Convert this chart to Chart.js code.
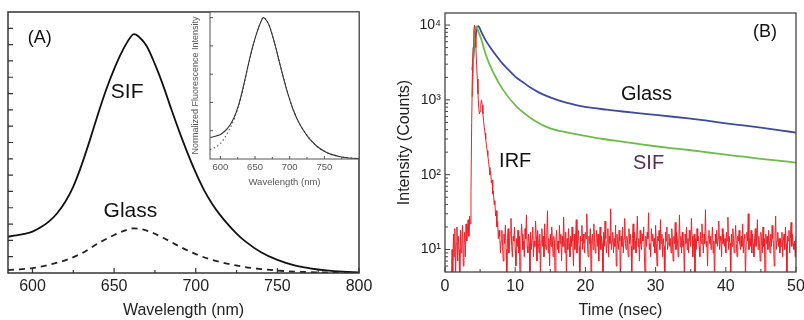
<!DOCTYPE html>
<html>
<head>
<meta charset="utf-8">
<script src="https://cdn.jsdelivr.net/npm/chart.js@4"></script>
<style>
  body { margin: 0; background: #fff; }
  #wrap { position: relative; width: 804px; height: 320px; background: #fff; }
  canvas { position: absolute; top: 0; }
</style>
</head>
<body>
<div id="wrap">
  <canvas id="chartA" width="400" height="320" style="left:0"></canvas>
  <canvas id="chartInset" width="186" height="200" style="left:180px"></canvas>
  <canvas id="chartB" width="416" height="320" style="left:388px"></canvas>
</div>
<script>
// (A) emission spectra, arbitrary units
const wavelength = [585, 590, 595, 600, 605, 610, 615, 620, 625, 630, 635, 640, 645, 650, 655, 660, 662, 665, 670, 675,
                    680, 685, 690, 695, 700, 705, 710, 715, 720, 725, 730, 740, 750, 760, 770, 780, 790, 800];
const sifSpectrum = [2.23, 2.3, 2.4, 2.54, 2.8, 3.15, 3.65, 4.35, 5.3, 6.6, 8.1, 9.7, 11.2, 12.5, 13.6, 14.45, 14.64, 14.5, 13.9, 12.8,
                     11.5, 10.05, 8.65, 7.35, 6.15, 5.1, 4.25, 3.55, 2.95, 2.42, 1.97, 1.27, 0.8, 0.48, 0.29, 0.16, 0.08, 0.04];
const glassWavelength = [585, 590, 600, 610, 620, 630, 640, 650, 656, 662, 670, 680, 690, 700, 710, 720, 730, 740, 750, 760, 780, 800];
const glassSpectrum = [0.18, 0.21, 0.3, 0.5, 0.78, 1.2, 1.8, 2.33, 2.58, 2.74, 2.6, 2.16, 1.63, 1.16, 0.8, 0.56, 0.37, 0.24, 0.15, 0.09, 0.03, 0.01];
const wlTicks = [600, 650, 700, 750, 800];
const wlMinorTicks = [625, 675, 725, 775];
const insetTicks = [600, 650, 700, 750];

// (B) decay curves, counts
const glassTime = [3.9, 4.2, 4.5, 4.75, 5.2, 5.9, 6.6, 7.4, 8.2, 9.0, 10, 11, 12, 13.5, 15, 17, 19, 21, 23, 25,
                   27.5, 30, 32.5, 35, 37.5, 40, 42.5, 45, 47.5, 50];
const glassDecay = [2500, 5500, 8500, 9700, 8000, 6000, 4800, 3800, 3050, 2550, 2050, 1750, 1500, 1240, 1080, 930, 840, 780, 740, 705,
                    665, 630, 595, 560, 525, 485, 455, 425, 395, 365];
const sifTime = [3.9, 4.0, 4.2, 4.45, 4.8, 5.2, 5.9, 6.9, 8.3, 10.2, 12.6, 15, 17.5, 20, 22.5, 25, 27.5, 30, 32.5, 35,
                 37.5, 40, 42.5, 45, 47.5, 50];
const sifDecay = [1100, 3000, 7000, 9600, 8000, 6300, 3800, 2300, 1350, 810, 540, 415, 365, 330, 300, 278, 258, 240, 225, 212,
                  198, 185, 174, 163, 154, 145];
// IRF: one value per 0.1 ns channel, from 0.9 ns
const irfStart = 0.9;
const irfChannel = 0.1;
const irfCounts = [
  3, 10, 5, 16, 8, 19, 4, 12, 20, 7, 15, 10, 3, 18, 9, 14, 21, 6, 12, 17, 8, 22, 13, 18, 25, 15, 28, 22,
  60, 500, 2000, 5000, 8500, 10000, 8000, 5000, 3000, 1900,
  1200, 800, 650, 700, 900, 1000, 850, 650, 520, 430,
  360, 300, 250, 210, 180, 150, 125, 100, 110, 78,
  85, 55, 60, 40, 45, 28, 33, 20, 24, 14, 18,
  15, 9, 13, 18, 11, 7, 16, 12, 21, 10, 4, 14, 19, 9, 12, 17, 26, 11, 8, 15,
  13, 20, 10, 6, 14, 11, 18, 9, 15, 3, 12, 22, 16, 10, 13, 8, 19, 14, 29, 11,
  9, 16, 12, 5, 17, 10, 14, 20, 8, 13, 11, 24, 15, 7, 18, 12, 9, 16, 4, 13,
  19, 11, 15, 8, 22, 12, 10, 17, 33, 9, 14, 6, 16, 11, 20, 13, 8, 15, 12, 3,
  14, 18, 10, 13, 9, 21, 12, 16, 7, 15, 11, 27, 13, 9, 17, 4, 14, 10, 19, 12,
  8, 15, 11, 20, 13, 6, 16, 10, 14, 25, 9, 12, 18, 11, 3, 15, 13, 21, 10, 16,
  12, 9, 17, 14, 30, 11, 8, 15, 12, 19, 5, 13, 16, 10, 22, 14, 9, 12, 18, 11,
  16, 7, 13, 20, 10, 15, 12, 4, 17, 11, 24, 14, 9, 13, 19, 8, 15, 12, 35, 10,
  13, 17, 9, 14, 11, 21, 6, 16, 12, 10, 18, 13, 3, 15, 11, 20, 9, 14, 26, 12,
  10, 15, 13, 8, 19, 12, 16, 11, 5, 14, 22, 10, 17, 13, 9, 15, 28, 11, 14, 7,
  18, 12, 10, 16, 13, 20, 9, 4, 15, 11, 17, 14, 31, 10, 12, 8, 19, 13, 16, 11,
  14, 9, 21, 12, 6, 15, 13, 18, 10, 25, 12, 16, 8, 14, 11, 3, 17, 13, 20, 10,
  12, 16, 11, 14, 9, 19, 13, 7, 15, 12, 23, 10, 17, 14, 8, 13, 29, 11, 15, 9,
  17, 11, 13, 4, 16, 12, 20, 10, 14, 9, 18, 13, 11, 26, 15, 8, 12, 16, 5, 14,
  10, 19, 13, 15, 11, 8, 17, 12, 22, 14, 9, 16, 12, 34, 11, 13, 6, 15, 18, 12,
  15, 10, 14, 20, 9, 13, 3, 16, 12, 18, 11, 14, 24, 10, 15, 13, 8, 19, 12, 16,
  11, 14, 9, 17, 13, 27, 10, 15, 12, 5, 16, 11, 19, 14, 9, 13, 21, 12, 8, 15,
  13, 18, 12, 10, 15, 11, 22, 9, 14, 16, 4, 12, 17, 13, 30, 10, 14, 11, 18, 9,
  16, 12, 8, 14, 19, 11, 13, 25, 10, 15, 12, 7, 17, 13, 9, 20, 11, 14, 3, 16,
  12, 15, 10, 18, 13, 9, 16, 11, 21, 14, 12, 6, 15, 28, 10, 13, 17, 11, 14, 9,
  14, 11, 17, 8, 13, 16, 10, 20, 12, 4, 15, 13, 18, 9, 14, 23, 11, 16, 12, 10,
  13, 8, 15
];
const timeTicks = [0, 10, 20, 30, 40, 50];
const timeMinorTicks = [5, 15, 25, 35, 45];
const decadeTicks = [10, 100, 1000, 10000];
const logMinorTicks = [6, 7, 8, 9, 20, 30, 40, 50, 60, 70, 80, 90, 200, 300, 400, 500, 600, 700, 800, 900,
                       2000, 3000, 4000, 5000, 6000, 7000, 8000, 9000];

const FONT = "'Liberation Sans', Arial, sans-serif";
const sup = { 1: '\u00b9', 2: '\u00b2', 3: '\u00b3', 4: '\u2074' };

// frame, inward ticks and text notes
const frameTicks = {
  id: 'frameTicks',
  beforeDatasetsDraw(chart, args, opts) {
    if (!opts.fill) return;
    const a = chart.chartArea, ctx = chart.ctx;
    ctx.save();
    ctx.fillStyle = opts.fill;
    ctx.fillRect(a.left, a.top, a.width, a.height);
    ctx.restore();
  },
  afterDraw(chart, args, opts) {
    const { ctx, chartArea: a, scales } = chart;
    const x = scales.x, y = scales.y;
    ctx.save();
    ctx.strokeStyle = opts.color;
    ctx.lineWidth = opts.tickWidth;
    ctx.beginPath();
    const xt = (vals, len) => (vals || []).forEach(v => {
      const p = x.getPixelForValue(v);
      ctx.moveTo(p, a.bottom); ctx.lineTo(p, a.bottom - len);
    });
    const yt = (vals, len) => (vals || []).forEach(v => {
      const p = y.getPixelForValue(v);
      ctx.moveTo(a.left, p); ctx.lineTo(a.left + len, p);
    });
    xt(opts.xMajor, opts.majorLen); xt(opts.xMinor, opts.minorLen);
    yt(opts.yMajor, opts.majorLen); yt(opts.yMinor, opts.minorLen);
    ctx.stroke();
    ctx.lineWidth = opts.frameWidth;
    ctx.strokeRect(a.left, a.top, a.width, a.height);
    ctx.textAlign = 'center';
    ctx.textBaseline = 'middle';
    (opts.notes || []).forEach(n => {
      ctx.font = n.size + 'px ' + FONT;
      ctx.fillStyle = n.color || '#111';
      ctx.fillText(n.text, x.getPixelForValue(n.x), y.getPixelForValue(n.y));
    });
    ctx.restore();
  }
};

const pts = (xs, ys) => xs.map((v, i) => ({ x: v, y: ys[i] }));

// ---- panel A
new Chart(document.getElementById('chartA'), {
  type: 'line',
  data: {
    datasets: [
      { data: pts(wavelength, sifSpectrum), borderColor: '#111', borderWidth: 1.8, pointRadius: 0, cubicInterpolationMode: 'monotone' },
      { data: pts(glassWavelength, glassSpectrum), borderColor: '#222', borderWidth: 1.8, borderDash: [6, 5], pointRadius: 0, cubicInterpolationMode: 'monotone' }
    ]
  },
  options: {
    responsive: false, animation: false, devicePixelRatio: 1,
    layout: { padding: { left: 0, right: 41, top: 12, bottom: 0 } },
    scales: {
      x: {
        type: 'linear', min: 585, max: 800,
        grid: { display: false, drawTicks: false }, border: { display: false },
        afterBuildTicks: ax => { ax.ticks = wlTicks.map(v => ({ value: v })); },
        afterFit: ax => { ax.height = 47; ax.paddingLeft = 0; ax.paddingRight = 0; },
        ticks: { padding: 4, color: '#222', font: { size: 16, family: FONT } },
        title: { display: true, text: 'Wavelength (nm)', color: '#222', font: { size: 16, family: FONT }, padding: { top: 0, bottom: 0 } }
      },
      y: {
        min: 0, max: 16,
        grid: { display: false, drawTicks: false }, border: { display: false },
        ticks: { display: false },
        afterFit: ax => { ax.width = 8; }
      }
    },
    plugins: {
      legend: { display: false }, tooltip: { enabled: false },
      frameTicks: {
        color: '#333', frameWidth: 1.5, tickWidth: 1.2, majorLen: 5, minorLen: 3,
        xMajor: wlTicks, xMinor: wlMinorTicks,
        yMajor: [1, 2, 3, 4, 5, 6, 7, 8, 9, 10, 11, 12, 13, 14, 15],
        notes: [
          { text: '(A)', x: 604.5, y: 14.4, size: 18 },
          { text: 'SIF', x: 658, y: 11.1, size: 21 },
          { text: 'Glass', x: 660, y: 3.8, size: 21 }
        ]
      }
    }
  },
  plugins: [frameTicks]
});

// ---- inset of A: normalised spectra
const sifPeak = Math.max(...sifSpectrum);
const glassPeak = Math.max(...glassSpectrum);
new Chart(document.getElementById('chartInset'), {
  type: 'line',
  data: {
    datasets: [
      { data: pts(wavelength, sifSpectrum.map(v => v / sifPeak)), borderColor: '#333', borderWidth: 1.1, pointRadius: 0, cubicInterpolationMode: 'monotone' },
      { data: pts(glassWavelength, glassSpectrum.map(v => v / glassPeak)), borderColor: '#555', borderWidth: 1.1, borderDash: [1.5, 2.5], pointRadius: 0, cubicInterpolationMode: 'monotone' }
    ]
  },
  options: {
    responsive: false, animation: false, devicePixelRatio: 1,
    layout: { padding: { left: 0, right: 7, top: 12, bottom: 0 } },
    scales: {
      x: {
        type: 'linear', min: 585, max: 800,
        grid: { display: false, drawTicks: false }, border: { display: false },
        afterBuildTicks: ax => { ax.ticks = insetTicks.map(v => ({ value: v })); },
        afterFit: ax => { ax.height = 41; ax.paddingLeft = 0; ax.paddingRight = 0; },
        ticks: { padding: 3, color: '#555', font: { size: 9.5, family: FONT } },
        title: { display: true, text: 'Wavelength (nm)', color: '#555', font: { size: 9.5, family: FONT }, padding: { top: 0, bottom: 12 } }
      },
      y: {
        min: 0, max: 1.04,
        grid: { display: false, drawTicks: false }, border: { display: false },
        ticks: { display: false },
        afterFit: ax => { ax.width = 30; },
        title: { display: true, text: 'Normalized Fluorescence Intensity', color: '#555', font: { size: 9, family: FONT }, padding: { top: 10, bottom: 0 } }
      }
    },
    plugins: {
      legend: { display: false }, tooltip: { enabled: false },
      frameTicks: {
        color: '#555', fill: '#fff', frameWidth: 1, tickWidth: 1, majorLen: 3, minorLen: 2,
        xMajor: insetTicks, xMinor: wlMinorTicks,
        yMajor: [0.2, 0.4, 0.6, 0.8, 1.0]
      }
    }
  },
  plugins: [frameTicks]
});

// ---- panel B
new Chart(document.getElementById('chartB'), {
  type: 'line',
  data: {
    datasets: [
      { data: irfCounts.map((c, i) => ({ x: irfStart + i * irfChannel, y: c })), borderColor: '#e8222a', borderWidth: 1, pointRadius: 0 },
      { data: pts(sifTime, sifDecay), borderColor: '#6cbd45', borderWidth: 1.8, pointRadius: 0, cubicInterpolationMode: 'monotone' },
      { data: pts(glassTime, glassDecay), borderColor: '#3b4b9f', borderWidth: 1.8, pointRadius: 0, cubicInterpolationMode: 'monotone' }
    ]
  },
  options: {
    responsive: false, animation: false, devicePixelRatio: 1,
    layout: { padding: { left: 0, right: 8, top: 13, bottom: 0 } },
    scales: {
      x: {
        type: 'linear', min: 0, max: 50,
        grid: { display: false, drawTicks: false }, border: { display: false },
        afterBuildTicks: ax => { ax.ticks = timeTicks.map(v => ({ value: v })); },
        afterFit: ax => { ax.height = 48; ax.paddingLeft = 0; ax.paddingRight = 0; },
        ticks: { padding: 5, color: '#222', font: { size: 16, family: FONT } },
        title: { display: true, text: 'Time (nsec)', color: '#222', font: { size: 16, family: FONT }, padding: { top: 0, bottom: 0 } }
      },
      y: {
        type: 'logarithmic', min: 5, max: 14500,
        grid: { display: false, drawTicks: false }, border: { display: false },
        afterBuildTicks: ax => { ax.ticks = decadeTicks.map(v => ({ value: v })); },
        afterFit: ax => { ax.width = 57; },
        ticks: { padding: 4, color: '#222', font: { size: 14, family: FONT },
                 callback: v => '10' + sup[Math.round(Math.log10(v))] },
        title: { display: true, text: 'Intensity (Counts)', color: '#222', font: { size: 16, family: FONT }, padding: { top: 7, bottom: 0 } }
      }
    },
    plugins: {
      legend: { display: false }, tooltip: { enabled: false },
      frameTicks: {
        color: '#444', frameWidth: 1.3, tickWidth: 1, majorLen: 5, minorLen: 3,
        xMajor: timeTicks, xMinor: timeMinorTicks,
        yMajor: decadeTicks, yMinor: logMinorTicks,
        notes: [
          { text: 'Glass', x: 28.7, y: 1190, size: 20 },
          { text: 'SIF', x: 29, y: 140, size: 20, color: '#5a2d55' },
          { text: 'IRF', x: 10, y: 150, size: 20 },
          { text: '(B)', x: 45.6, y: 8100, size: 18 }
        ]
      }
    }
  },
  plugins: [frameTicks]
});
</script>
</body>
</html>
